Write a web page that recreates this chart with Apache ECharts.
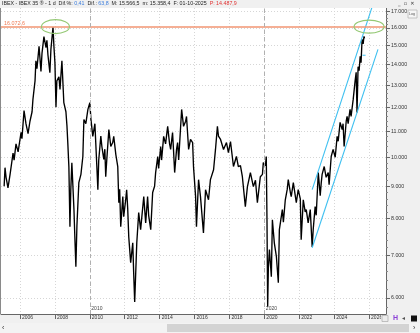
<!DOCTYPE html>
<html><head><meta charset="utf-8">
<script src="https://cdn.jsdelivr.net/npm/echarts@6/dist/echarts.min.js"></script>
<style>html,body{margin:0;padding:0;background:#f0f0f0}#c{width:420px;height:333px}</style>
</head><body><div id="c"></div>
<script>
// ---- data ----
const years = [
2005.09,2005.14,2005.20,2005.31,2005.43,2005.60,2005.66,2005.77,2005.89,
2006.06,2006.11,2006.23,2006.34,2006.46,2006.57,2006.69,2006.74,2006.86,2006.91,2006.97,
2007.09,2007.20,2007.26,2007.37,2007.49,2007.54,2007.60,2007.71,2007.77,2007.89,2007.94,
2008.00,2008.06,2008.11,2008.23,2008.29,2008.40,2008.51,2008.63,2008.69,2008.74,2008.80,2008.86,2008.91,2008.97,
2009.03,2009.09,2009.14,2009.20,2009.26,2009.37,2009.49,2009.60,2009.66,2009.77,2009.89,
2010.00,2010.06,2010.17,2010.29,2010.40,2010.46,2010.51,2010.63,2010.69,2010.80,2010.86,2010.91,2010.97,
2011.09,2011.20,2011.31,2011.37,2011.49,2011.60,2011.66,2011.71,2011.77,2011.89,2011.94,
2012.06,2012.11,2012.17,2012.23,2012.34,2012.46,2012.51,2012.57,2012.69,2012.80,2012.91,
2013.09,2013.20,2013.31,2013.37,2013.49,2013.60,2013.71,2013.77,2013.89,2013.94,
2014.06,2014.11,2014.23,2014.34,2014.46,2014.57,2014.63,2014.74,2014.80,2014.86,2014.97,
2015.03,2015.09,2015.26,2015.37,2015.49,2015.54,2015.66,2015.77,2015.89,2015.94,
2016.06,2016.11,2016.23,2016.34,2016.51,2016.63,2016.80,2016.91,
2017.09,2017.20,2017.31,2017.37,2017.49,2017.66,2017.83,2017.94,
2018.06,2018.23,2018.40,2018.51,2018.63,2018.74,2018.91,
2019.03,2019.20,2019.37,2019.49,2019.60,2019.77,2019.89,2019.94,
2020.06,2020.11,2020.15,2020.19,2020.23,2020.29,2020.40,2020.46,2020.57,2020.69,2020.80,2020.86,
2021.03,2021.09,2021.20,2021.31,2021.37,2021.49,2021.54,2021.66,2021.77,2021.83,2021.94,
2022.06,2022.11,2022.23,2022.34,2022.40,2022.51,2022.63,2022.74,2022.80,2022.91,2022.97,
2023.09,2023.20,2023.26,2023.31,2023.43,2023.54,2023.66,2023.71,2023.83,2023.94,
2024.06,2024.17,2024.23,2024.34,2024.46,2024.51,2024.57,2024.69,2024.74,2024.80,2024.91,2024.97,
2025.09,2025.20,2025.26,2025.31,2025.37,2025.43,2025.49,2025.54,2025.60,2025.66,2025.71,2025.74
];
const closes = [
9000,9630,9300,8950,9400,10150,9900,10500,10200,
10950,10700,11850,11300,10900,11400,11800,12340,13200,14200,13800,
14970,13660,14600,15500,14900,15300,14500,13600,14800,16040,15000,
14100,12000,13200,13400,12800,14200,12200,11800,11200,10500,9650,7770,8900,9800,
9000,8270,7500,6720,7800,9120,9400,10030,11470,11300,11900,
12200,11500,10790,11300,9700,8890,9900,10800,10400,9920,10300,9320,9900,
11060,10400,10550,10790,10100,9670,8480,8900,7770,8670,8060,
8600,8890,8300,7490,6820,7330,6600,5910,7330,8180,7690,
8670,7880,8670,8100,7690,8800,9000,9460,10030,9600,
10400,9900,10790,10500,11190,10500,10290,10940,10200,9460,10300,
10550,9900,11900,11190,11400,11600,10290,10670,10550,9670,
8670,7770,9220,8670,7600,8890,8570,9220,
9560,10290,11190,10800,10670,10290,10550,10170,
10590,9670,10030,9670,9700,9320,8360,
8990,9460,8990,9200,8480,9320,9400,9810,
9700,10030,8000,5810,6700,7150,6480,7970,7330,6970,6340,7690,
8270,7900,8570,8900,9220,8800,8670,9120,8700,8480,8890,
8600,7410,8570,8200,8270,7880,8270,7220,7700,8360,8100,
9460,8700,9120,9400,9670,9300,9460,9050,10030,10290,
10000,10790,10600,11350,11060,11300,10400,11400,11600,11300,11900,11600,
12340,13200,13615,11770,13900,13700,14430,14100,15350,15100,15520,15400
];
const yearTicks = [2006,2008,2010,2012,2014,2016,2018,2020,2022,2024,2026];
const priceTicks = [6000,7000,8000,9000,10000,11000,12000,13000,14000,15000,16000,17000];
const minorPriceTicks = [5800,6200,6400,6600,6800,7200,7400,7600,7800,8200,8400,8600,8800,9200,9400,9600,9800,
  10200,10400,10600,10800,11200,11400,11600,11800,12200,12400,12600,12800,13200,13400,13600,13800,
  14200,14400,14600,14800,15200,15400,15600,15800,16200,16400,16600,16800];
const decades = [2010, 2020];
const resistance = 16072.6;
const channelUpper = [[2022.74, 8890], [2026.2, 17360]];
const channelLower = [[2022.74, 7200], [2026.51, 14800]];
const highlightCenters = [[2008.03, 16072.6], [2026.0, 16072.6]];
const lastPrice = 14487.9;
const lastPriceSpan = [2025.62, 2025.80];

// ---- helpers ----
function fmt(v){ return String(Math.round(v)).replace(/\B(?=(\d{3})+(?!\d))/g,'.'); }
function fmtDec(v){ const p = v.toFixed(1).split('.'); return fmt(+p[0]) + ',' + p[1]; }
const FF = 'Liberation Sans, Arial, sans-serif';

const chart = echarts.init(document.getElementById('c'), null, {renderer:'canvas'});
const priceData = years.map((y,i)=>[y, closes[i]]);

chart.setOption({
  animation:false,
  backgroundColor:'#f0f0f0',
  textStyle:{fontFamily:FF},
  grid:{left:1,right:34,top:8,bottom:19,show:true,backgroundColor:'#ffffff',borderWidth:0},
  xAxis:{
    type:'value', min:2004.91, max:2026.97,
    axisLine:{show:true,lineStyle:{color:'#666',width:1}},
    axisTick:{show:true,customValues:yearTicks,length:5,lineStyle:{color:'#666'}},
    axisLabel:{customValues:yearTicks,formatter:v=>String(v),align:'left',padding:[0,0,0,2],margin:1,
      fontSize:5,color:'#333',verticalAlign:'top'},
    splitLine:{show:true,lineStyle:{color:'#d6d6d6',type:[1,2],width:1}}
  },
  yAxis:[{
    type:'log', position:'right', min:5660, max:17200,
    axisLine:{show:true,lineStyle:{color:'#666',width:1}},
    axisTick:{show:true,customValues:priceTicks,length:4,lineStyle:{color:'#666'}},
    axisLabel:{customValues:priceTicks,formatter:v=>fmt(v),fontSize:5.3,color:'#333',margin:5},
    splitLine:{show:true,lineStyle:{color:'#d6d6d6',type:[1,2],width:1}}
  },{
    type:'log', position:'right', min:5660, max:17200,
    axisLine:{show:false},
    axisTick:{show:true,customValues:minorPriceTicks,length:2,lineStyle:{color:'#888'}},
    axisLabel:{show:false},
    splitLine:{show:false}
  }],
  series:[{
    type:'line', data:priceData, symbol:'none', clip:true, z:3,
    lineStyle:{color:'#000',width:1.35},
    markLine:{
      silent:true, symbol:['none','none'], animation:false,
      data:[
        {yAxis:resistance, lineStyle:{color:'#f29572',width:1.7,type:'solid'},
          label:{show:true,position:'insideStartTop',formatter:fmtDec(resistance),color:'#ef7a52',fontSize:5.4,distance:[3,1]}},
        ...decades.map(d=>({xAxis:d, lineStyle:{color:'#b0b0b0',width:1,type:[4,3]}, label:{show:false}}))
      ]
    }
  },{
    type:'line', data:channelUpper, symbol:'none', clip:true, z:4,
    lineStyle:{color:'#3ec0f0',width:1.1}
  },{
    type:'line', data:channelLower, symbol:'none', clip:true, z:4,
    lineStyle:{color:'#3ec0f0',width:1.1}
  },{
    type:'line', data:lastPriceSpan.map(x=>[x,lastPrice]), symbol:'none', z:4,
    lineStyle:{color:'#3ec0f0',width:1}
  }]
});

// ---- overlay graphics (positioned from data where they refer to data) ----
const g = [];
g.push({type:'rect',shape:{x:0,y:0,width:420,height:8},style:{fill:'#f0f0f0'},z:100});
g.push({type:'text',x:2,y:1.5,z:101,style:{
  text:'IBEX - IBEX 35 ® - 1 d  Dif.%: {b|0,41}  Dif.: {b|63,8}  M: 15.566,5  m: 15.358,4  F: 01-10-2025  {r|P: 14.487,9}',
  fontSize:5.3, fontFamily:FF, fill:'#222',
  rich:{b:{fill:'#3b7ddd',fontSize:5.3,fontFamily:FF},r:{fill:'#e03030',fontSize:5.3,fontFamily:FF}}
}});
g.push({type:'text',x:398,y:1,z:101,style:{text:'_  ▫  ✕',fontSize:5,fontFamily:'DejaVu Sans',fill:'#333'}});
g.push({type:'rect',shape:{x:408,y:10,width:9,height:8},style:{fill:'#f6f6f6',stroke:'#b8b8b8',lineWidth:0.8},z:101});
g.push({type:'text',x:409,y:12,z:102,style:{text:'Log',fontSize:3.6,fontFamily:FF,fill:'#555'}});
g.push({type:'rect',shape:{x:0,y:8,width:1,height:306},style:{fill:'#8a8a8a'},z:101});
g.push({type:'rect',shape:{x:381,y:315,width:39,height:7},style:{fill:'#f0f0f0'},z:100});
g.push({type:'rect',shape:{x:382,y:315.5,width:6,height:6},style:{fill:'#ececec',stroke:'#aaa',lineWidth:0.7},z:101});
g.push({type:'text',x:393,y:315,z:101,style:{text:'H',fontSize:7,fontWeight:'bold',fontFamily:FF,fill:'#8a3ed6'}});
g.push({type:'text',x:402,y:315.5,z:101,style:{text:'◂',fontSize:6,fontFamily:'DejaVu Sans',fill:'#555'}});
g.push({type:'rect',shape:{x:411,y:315.5,width:6,height:6},style:{fill:'#111'},z:101});
g.push({type:'rect',shape:{x:0,y:323,width:420,height:10},style:{fill:'#f3f3f3'},z:100});
g.push({type:'rect',shape:{x:167,y:324,width:242,height:8},style:{fill:'#d3d3d3'},z:101});
g.push({type:'text',x:2,y:324.5,z:101,style:{text:'‹',fontSize:7,fontFamily:FF,fill:'#333'}});
g.push({type:'text',x:413,y:324.5,z:101,style:{text:'›',fontSize:7,fontFamily:FF,fill:'#333'}});
const radii = [[14,7],[15,6.5]];
highlightCenters.forEach((c,i)=>{
  const p = chart.convertToPixel({xAxisIndex:0,yAxisIndex:0}, c);
  g.push({type:'ellipse',shape:{cx:p[0],cy:p[1],rx:radii[i][0],ry:radii[i][1]},
    style:{fill:'none',stroke:'#94c874',lineWidth:1.1},z:50});
});
decades.forEach(d=>{
  const p = chart.convertToPixel({xAxisIndex:0,yAxisIndex:0}, [d, 5660]);
  g.push({type:'text',x:p[0]+1.5,y:p[1]-7.5,z:50,style:{text:String(d),fontSize:5,fontFamily:FF,fill:'#444'}});
});
chart.setOption({graphic:g});
</script>
</body></html>
